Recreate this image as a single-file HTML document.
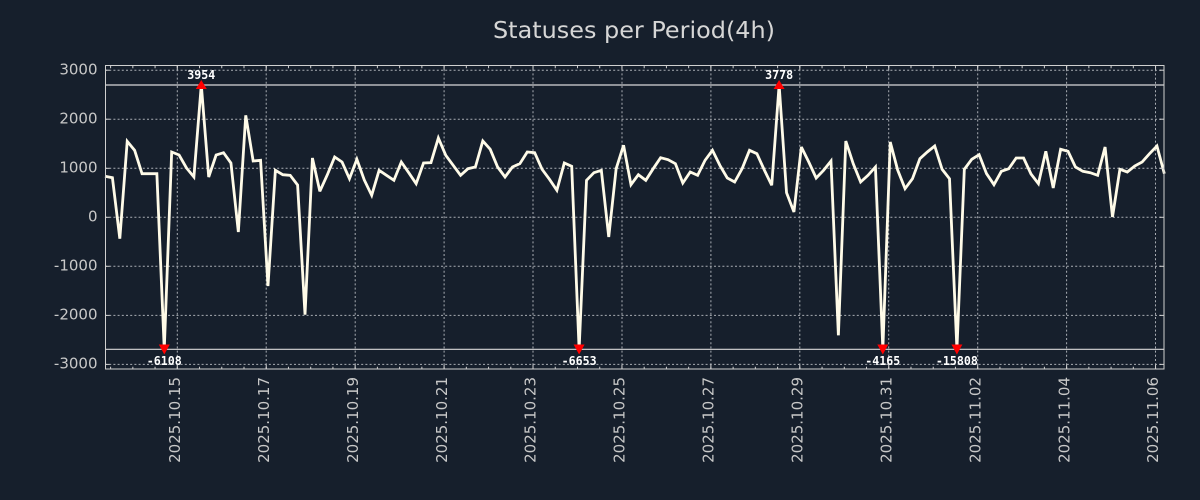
<!DOCTYPE html>
<html>
<head>
<meta charset="utf-8">
<style>
html,body{margin:0;padding:0;background:#161f2c;}
svg{display:block;}
</style>
</head>
<body>
<svg width="1200" height="500" viewBox="0 0 1200 500" xmlns="http://www.w3.org/2000/svg">
<rect x="0" y="0" width="1200" height="500" fill="#161f2c"/>
<!-- title -->
<text x="634" y="38" text-anchor="middle" font-family="DejaVu Sans, Liberation Sans, sans-serif" font-size="23.5" fill="#d6d6d6" textLength="282" lengthAdjust="spacingAndGlyphs">Statuses per Period(4h)</text>

<!-- grid -->
<g stroke="#a9adb3" stroke-width="1" stroke-dasharray="2,2.2" fill="none">
<line x1="105" y1="70.2" x2="1164" y2="70.2"/>
<line x1="105" y1="119.2" x2="1164" y2="119.2"/>
<line x1="105" y1="168.3" x2="1164" y2="168.3"/>
<line x1="105" y1="217.3" x2="1164" y2="217.3"/>
<line x1="105" y1="266.3" x2="1164" y2="266.3"/>
<line x1="105" y1="315.4" x2="1164" y2="315.4"/>
<line x1="105" y1="364.4" x2="1164" y2="364.4"/>
<line x1="177.3" y1="65" x2="177.3" y2="369"/>
<line x1="266.2" y1="65" x2="266.2" y2="369"/>
<line x1="355.2" y1="65" x2="355.2" y2="369"/>
<line x1="444.1" y1="65" x2="444.1" y2="369"/>
<line x1="533" y1="65" x2="533" y2="369"/>
<line x1="622" y1="65" x2="622" y2="369"/>
<line x1="710.9" y1="65" x2="710.9" y2="369"/>
<line x1="799.8" y1="65" x2="799.8" y2="369"/>
<line x1="888.7" y1="65" x2="888.7" y2="369"/>
<line x1="977.7" y1="65" x2="977.7" y2="369"/>
<line x1="1066.6" y1="65" x2="1066.6" y2="369"/>
<line x1="1155.5" y1="65" x2="1155.5" y2="369"/>
</g>

<!-- clip lines -->
<line x1="105" y1="85" x2="1164" y2="85" stroke="#d8d8d8" stroke-width="1.2"/>
<line x1="105" y1="349.3" x2="1164" y2="349.3" stroke="#d8d8d8" stroke-width="1.2"/>

<!-- data line -->
<polyline fill="none" stroke="#fffbe8" stroke-width="2.8" stroke-linejoin="miter" stroke-miterlimit="3" points="
105,176.3 112.41,177.7 119.82,238.7 127.22,141.3 134.63,150.3 142.04,173.7 149.45,173.7 156.86,173.7 164.26,349.3 171.67,152
179.08,155 186.49,168 193.9,177 201.3,85 208.71,177 216.12,155 223.53,152.7 230.94,163 238.34,232 245.75,115.3
253.16,161 260.57,160.3 267.98,286 275.38,170.3 282.79,174.7 290.2,175.3 297.61,185 305.02,314.7 312.42,158 319.83,191.3
327.24,175 334.65,157 342.06,162 349.46,178.7 356.87,159.3 364.28,180 371.69,195.3 379.1,170.3 386.5,175.3 393.91,180.3
401.32,162 408.73,172.7 416.14,183.7 423.54,163 430.95,162.7 438.36,138 445.77,155.3 453.18,165.3 460.58,175.3 467.99,168.7
475.4,167 482.81,141 490.22,149.3 497.62,167 505.03,177 512.44,167 519.85,163.7 527.26,152 534.66,152.7 542.07,169.3
549.48,179.3 556.89,190.3 564.3,163 571.7,166.3 579.11,349.3 586.52,180.3 593.93,172.7 601.34,170.3 608.74,237 616.15,168.7
623.56,145.3 630.97,184.7 638.38,174.7 645.78,180.3 653.19,168.7 660.6,157.7 668.01,159.7 675.42,163.7 682.82,183 690.23,172
697.64,175.3 705.05,160.3 712.46,150.3 719.86,165.3 727.27,178 734.68,182 742.09,168.7 749.5,150.3 756.9,153.7 764.31,170
771.72,185.3 779.13,85 786.54,192.7 793.94,212 801.35,147 808.76,162 816.17,178 823.58,170.3 830.98,161 838.39,335.3
845.8,141 853.21,163.7 860.62,182 868.02,175.3 875.43,167 882.84,349.3 890.25,142 897.66,170 905.06,188.7 912.47,178.7
919.88,158.7 927.29,152 934.7,146 942.1,169.3 949.51,178.7 956.92,349.3 964.33,169.3 971.74,159.3 979.14,154.7 986.55,173.7
993.96,184.7 1001.37,171.3 1008.78,168.7 1016.18,158 1023.59,158 1031,174 1038.41,183.7 1045.82,151.3 1053.22,188 1060.63,149.3
1068.04,151.3 1075.45,167 1082.86,171.3 1090.26,172.7 1097.67,175.3 1105.08,147 1112.49,217 1119.9,169.3 1127.3,172 1134.71,166
1142.12,162 1149.53,153.7 1156.94,146 1164.34,173.7"/>

<!-- markers -->
<g fill="#ff0000">
<polygon points="195.8,89 206.8,89 201.3,80"/>
<polygon points="773.6,89 784.6,89 779.1,80"/>
<polygon points="158.8,344.5 169.8,344.5 164.3,354.5"/>
<polygon points="573.6,344.5 584.6,344.5 579.1,354.5"/>
<polygon points="877.3,344.5 888.3,344.5 882.8,354.5"/>
<polygon points="951.4,344.5 962.4,344.5 956.9,354.5"/>
</g>
<g font-family="DejaVu Sans Mono, Liberation Mono, monospace" font-weight="bold" font-size="12" fill="#ffffff" text-anchor="middle">
<text x="201.3" y="78.8" textLength="28" lengthAdjust="spacingAndGlyphs">3954</text>
<text x="779.1" y="78.8" textLength="28" lengthAdjust="spacingAndGlyphs">3778</text>
<text x="164.3" y="365" textLength="35" lengthAdjust="spacingAndGlyphs">-6108</text>
<text x="579.1" y="365" textLength="35" lengthAdjust="spacingAndGlyphs">-6653</text>
<text x="882.8" y="365" textLength="35" lengthAdjust="spacingAndGlyphs">-4165</text>
<text x="956.9" y="365" textLength="42" lengthAdjust="spacingAndGlyphs">-15808</text>
</g>

<!-- spines -->
<rect x="105.5" y="65.5" width="1058.5" height="303.5" fill="none" stroke="#d0d0d0" stroke-width="1"/>

<!-- x ticks (bottom/top) -->
<g stroke="#d0d0d0">
<line x1="110.1" y1="368" x2="1164" y2="368" stroke-width="2.4" stroke-dasharray="1,21.233"/>
<line x1="110.1" y1="67" x2="1164" y2="67" stroke-width="2.4" stroke-dasharray="1,21.233"/>
<line x1="176.8" y1="366.8" x2="1164" y2="366.8" stroke-width="4.4" stroke-dasharray="1,87.93"/>
<line x1="176.8" y1="67.6" x2="1164" y2="67.6" stroke-width="4.4" stroke-dasharray="1,87.93"/>
</g>
<!-- y ticks -->
<g stroke="#d0d0d0" stroke-width="1">
<line x1="105" y1="70.2" x2="109.5" y2="70.2"/><line x1="1159.5" y1="70.2" x2="1164" y2="70.2"/>
<line x1="105" y1="119.2" x2="109.5" y2="119.2"/><line x1="1159.5" y1="119.2" x2="1164" y2="119.2"/>
<line x1="105" y1="168.3" x2="109.5" y2="168.3"/><line x1="1159.5" y1="168.3" x2="1164" y2="168.3"/>
<line x1="105" y1="217.3" x2="109.5" y2="217.3"/><line x1="1159.5" y1="217.3" x2="1164" y2="217.3"/>
<line x1="105" y1="266.3" x2="109.5" y2="266.3"/><line x1="1159.5" y1="266.3" x2="1164" y2="266.3"/>
<line x1="105" y1="315.4" x2="109.5" y2="315.4"/><line x1="1159.5" y1="315.4" x2="1164" y2="315.4"/>
<line x1="105" y1="364.4" x2="109.5" y2="364.4"/><line x1="1159.5" y1="364.4" x2="1164" y2="364.4"/>
</g>

<!-- y tick labels -->
<g font-family="DejaVu Sans, Liberation Sans, sans-serif" font-size="15" fill="#c8c8c8" text-anchor="end">
<text x="97.5" y="74.4">3000</text>
<text x="97.5" y="123.4">2000</text>
<text x="97.5" y="172.5">1000</text>
<text x="97.5" y="221.5">0</text>
<text x="97.5" y="270.5">-1000</text>
<text x="97.5" y="319.5">-2000</text>
<text x="97.5" y="368.5">-3000</text>
</g>

<!-- x tick labels -->
<g font-family="DejaVu Sans, Liberation Sans, sans-serif" font-size="15" fill="#c8c8c8" text-anchor="end">
<text transform="translate(180,377) rotate(-90)">2025.10.15</text>
<text transform="translate(268.9,377) rotate(-90)">2025.10.17</text>
<text transform="translate(357.9,377) rotate(-90)">2025.10.19</text>
<text transform="translate(446.8,377) rotate(-90)">2025.10.21</text>
<text transform="translate(535.7,377) rotate(-90)">2025.10.23</text>
<text transform="translate(624.7,377) rotate(-90)">2025.10.25</text>
<text transform="translate(713.6,377) rotate(-90)">2025.10.27</text>
<text transform="translate(802.5,377) rotate(-90)">2025.10.29</text>
<text transform="translate(891.4,377) rotate(-90)">2025.10.31</text>
<text transform="translate(980.4,377) rotate(-90)">2025.11.02</text>
<text transform="translate(1069.3,377) rotate(-90)">2025.11.04</text>
<text transform="translate(1158.2,377) rotate(-90)">2025.11.06</text>
</g>
</svg>
</body>
</html>
